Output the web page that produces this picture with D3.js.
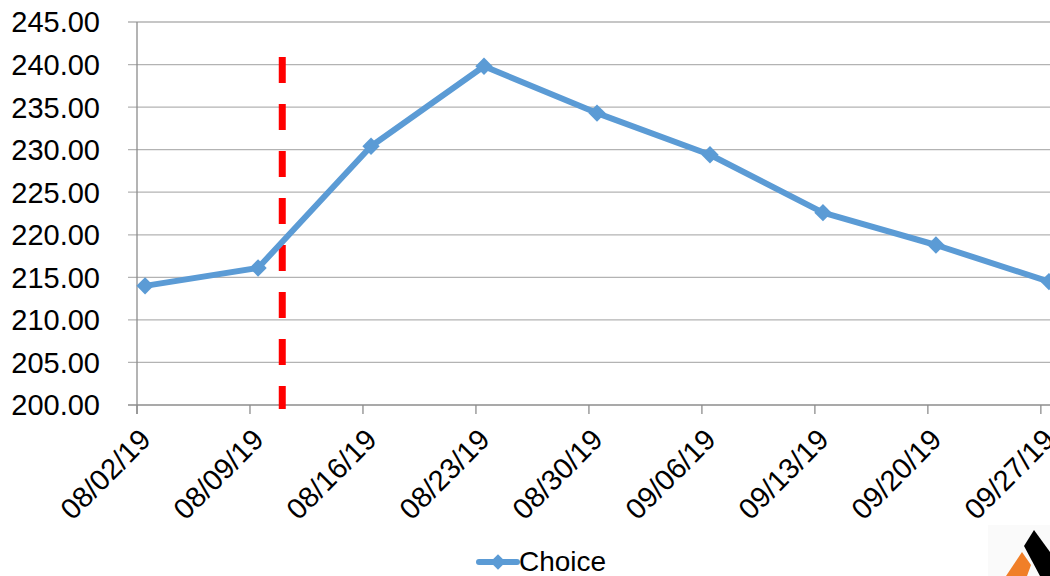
<!DOCTYPE html>
<html>
<head>
<meta charset="utf-8">
<script src="https://cdn.jsdelivr.net/npm/d3@7"></script>
<style>
  body { margin: 0; background: #fff; }
  svg { display: block; font-family: "Liberation Sans", Arial, sans-serif; }
</style>
</head>
<body>
<svg width="1050" height="576"></svg>
<script>
// данные графика
const weeks = ["2019-08-02", "2019-08-09", "2019-08-16", "2019-08-23", "2019-08-30",
               "2019-09-06", "2019-09-13", "2019-09-20", "2019-09-27"];
const choice = [214.0, 216.1, 230.4, 239.8, 234.3, 229.4, 222.6, 218.8, 214.5];
const yTicks = [200, 205, 210, 215, 220, 225, 230, 235, 240, 245];
const markerDate = "2019-08-11";
const seriesName = "Choice";

const svg = d3.select("svg");
const parse = d3.utcParse("%Y-%m-%d");
const fmt = d3.utcFormat("%m/%d/%y");
const day = 24 * 3600 * 1000;

const dates = weeks.map(parse);

// ось дат: каждый день - отдельная ячейка, точка в середине дня
const x = d3.scaleUtc()
    .domain([dates[0], new Date(+dates[dates.length - 1] + day)])
    .range([137, 1057]);
const y = d3.scaleLinear()
    .domain([200, 245])
    .range([405, 22]);

// сетка
svg.append("g")
    .selectAll("line")
    .data(yTicks)
    .join("line")
    .attr("x1", 128)
    .attr("x2", 1050)
    .attr("y1", d => y(d))
    .attr("y2", d => y(d))
    .attr("stroke", d => d === 200 ? "#8c8c8c" : "#b3b3b3")
    .attr("stroke-width", 1.3);

// вертикальная ось
svg.append("line")
    .attr("x1", 137).attr("x2", 137)
    .attr("y1", y(245)).attr("y2", 414)
    .attr("stroke", "#8c8c8c")
    .attr("stroke-width", 1.3);

// подписи оси Y
svg.append("g")
    .selectAll("text")
    .data(yTicks)
    .join("text")
    .attr("x", 100)
    .attr("y", d => y(d))
    .attr("dy", "0.36em")
    .attr("text-anchor", "end")
    .attr("font-size", 29)
    .attr("fill", "#000")
    .text(d => d.toFixed(2));

// засечки и подписи оси X
const xg = svg.append("g");
xg.selectAll("line")
    .data(dates)
    .join("line")
    .attr("x1", d => x(d))
    .attr("x2", d => x(d))
    .attr("y1", y(200))
    .attr("y2", 414)
    .attr("stroke", "#8c8c8c")
    .attr("stroke-width", 1.3);

xg.selectAll("text")
    .data(dates)
    .join("text")
    .attr("transform", d => `translate(${x(d) + 8}, 434) rotate(-45)`)
    .attr("text-anchor", "end")
    .attr("dy", "0.36em")
    .attr("font-size", 29)
    .attr("fill", "#000")
    .text(d => fmt(d));

// красная пунктирная линия
svg.append("line")
    .attr("x1", x(parse(markerDate)))
    .attr("x2", x(parse(markerDate)))
    .attr("y1", 57)
    .attr("y2", 409)
    .attr("stroke", "#ff0000")
    .attr("stroke-width", 7)
    .attr("stroke-dasharray", "26,21");

const pts = dates.map((d, i) => ({ x: x(new Date(+d + day / 2)), y: y(choice[i]) }));

const line = d3.line()
    .x(d => d.x)
    .y(d => d.y);

const blue = "#5b9bd5";

svg.append("path")
    .attr("d", line(pts))
    .attr("fill", "none")
    .attr("stroke", blue)
    .attr("stroke-width", 6)
    .attr("stroke-linejoin", "round");

const diamond = d3.symbol(d3.symbolSquare, 150);
svg.append("g")
    .selectAll("path")
    .data(pts)
    .join("path")
    .attr("transform", d => `translate(${d.x}, ${d.y}) rotate(45)`)
    .attr("d", diamond)
    .attr("fill", blue);

// легенда
const lg = svg.append("g");
lg.append("line")
    .attr("x1", 479).attr("x2", 517)
    .attr("y1", 562).attr("y2", 562)
    .attr("stroke", blue)
    .attr("stroke-width", 6)
    .attr("stroke-linecap", "round");
lg.append("path")
    .attr("transform", "translate(498, 562) rotate(45)")
    .attr("d", d3.symbol(d3.symbolSquare, 120))
    .attr("fill", blue);
lg.append("text")
    .attr("x", 519)
    .attr("y", 571)
    .attr("font-size", 28)
    .attr("fill", "#000")
    .text(seriesName);

// логотип в углу
const logo = svg.append("g");
logo.append("rect")
    .attr("x", 988).attr("y", 525)
    .attr("width", 62).attr("height", 51)
    .attr("fill", "#fafafa");
logo.append("path")
    .attr("d", "M1034,530 L1050,552 L1050,576 L1040,576 L1024,546 Z")
    .attr("fill", "#000");
logo.append("path")
    .attr("d", "M1022,552 L1031,565 L1027,576 L1006,576 Z")
    .attr("fill", "#f07f28");
</script>
</body>
</html>
